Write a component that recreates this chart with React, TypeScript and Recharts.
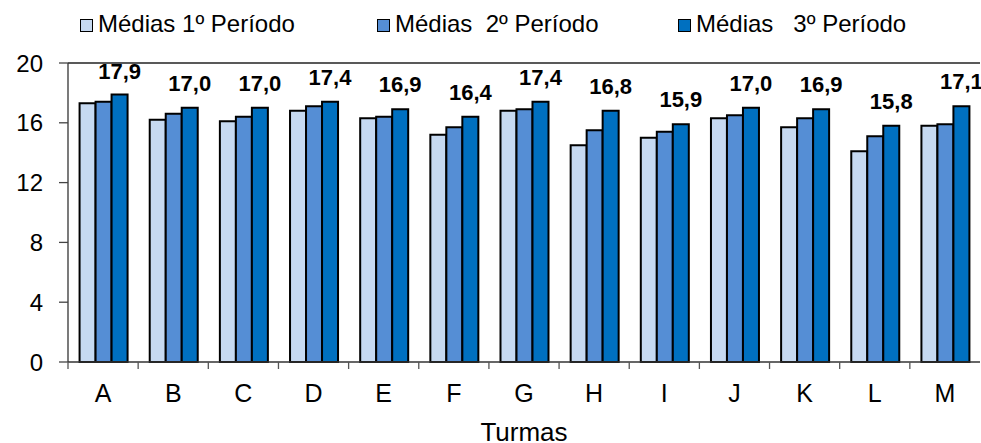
import React from 'react';
import { BarChart, Bar, XAxis, YAxis, Legend, LabelList, ReferenceLine } from 'recharts';

const turmas = ['A', 'B', 'C', 'D', 'E', 'F', 'G', 'H', 'I', 'J', 'K', 'L', 'M'];
const media1 = [17.3, 16.2, 16.1, 16.8, 16.3, 15.2, 16.8, 14.5, 15.0, 16.3, 15.7, 14.1, 15.8];
const media2 = [17.4, 16.6, 16.4, 17.1, 16.4, 15.7, 16.9, 15.5, 15.4, 16.5, 16.3, 15.1, 15.9];
const media3 = [17.9, 17.0, 17.0, 17.4, 16.9, 16.4, 17.4, 16.8, 15.9, 17.0, 16.9, 15.8, 17.1];
const yTicks = [0, 4, 8, 12, 16, 20];
const seriesKeys = ['m1', 'm2', 'm3'];
const seriesNames = ['Médias 1º Período', 'Médias  2º Período', 'Médias   3º Período'];
const seriesColors = ['#C6D9F1', '#558ED5', '#0070C0'];
const xTitle = 'Turmas';

const data = turmas.map((t, i) => ({ turma: t, m1: media1[i], m2: media2[i], m3: media3[i] }));

const FONT = '"Liberation Sans", Arial, sans-serif';

const XTick = (props: any) => {
  const { x, y, payload } = props;
  const half = payload && typeof payload.offset === 'number' ? payload.offset : 0;
  return (
    <g>
      <line x1={x - half} x2={x - half} y1={y} y2={y + 7} stroke="#555" strokeWidth={1.3} />
      <text x={x} y={y + 40} textAnchor="middle" fontSize={25} fontFamily={FONT} fill="#000">
        {payload.value}
      </text>
    </g>
  );
};

const legendX = [80, 377, 678];

const LegendContent = (props: any) => {
  const payload = [...(props.payload || [])].sort(
    (a: any, b: any) => seriesKeys.indexOf(a.dataKey) - seriesKeys.indexOf(b.dataKey)
  );
  return (
    <div style={{ position: 'relative', width: 981, height: 45, fontFamily: FONT }}>
      {payload.map((entry: any, i: number) => (
        <React.Fragment key={i}>
          <div
            style={{
              position: 'absolute',
              left: legendX[i],
              top: 19,
              width: 11,
              height: 11,
              background: entry.color,
              border: '1.5px solid #000',
            }}
          />
          <span
            style={{
              position: 'absolute',
              left: legendX[i] + 18,
              top: 12,
              fontSize: 24,
              lineHeight: '24px',
              whiteSpace: 'pre',
              color: '#000',
            }}
          >
            {entry.value}
          </span>
        </React.Fragment>
      ))}
    </div>
  );
};

const TopLabel = (props: any) => {
  const { x, y, width, value } = props;
  const base = Math.max(y - 17, 79);
  return (
    <text
      x={x + width / 2}
      y={base}
      textAnchor="middle"
      fontSize={22}
      fontWeight="bold"
      fontFamily={FONT}
      fill="#000"
    >
      {Number(value).toFixed(1).replace('.', ',')}
    </text>
  );
};

export default function App() {
  return (
    <div style={{ position: 'absolute', left: 0, top: 0, width: 981, height: 443, background: '#fff' }}>
      <BarChart
        width={981}
        height={443}
        data={data}
        margin={{ top: 63, right: 1, left: 8, bottom: 0 }}
        barCategoryGap="16.5%"
        barGap={0}
      >
        <XAxis
          dataKey="turma"
          height={81}
          tickLine={false}
          tickSize={0}
          tickMargin={0}
          axisLine={{ stroke: '#333', strokeWidth: 1.3 }}
          tick={<XTick />}
          interval={0}
          label={{ value: xTitle, position: 'insideBottom', offset: 2, fontSize: 26, fill: '#000', fontFamily: FONT }}
        />
        <YAxis
          domain={[0, 20]}
          ticks={yTicks}
          width={60}
          tickSize={9}
          tickMargin={16}
          tickLine={{ stroke: '#444', strokeWidth: 1.3 }}
          axisLine={{ stroke: '#333', strokeWidth: 1.3 }}
          tick={{ fontSize: 24, fill: '#000', fontFamily: FONT }}
          interval={0}
        />
        <YAxis
          yAxisId="right"
          orientation="right"
          width={0}
          tick={false}
          tickLine={false}
          axisLine={{ stroke: '#888', strokeWidth: 1.3 }}
        />
        <ReferenceLine y={20} stroke="#222" strokeWidth={1.3} />
        <Legend
          layout="horizontal"
          verticalAlign="middle"
          align="center"
          wrapperStyle={{ top: 0, left: 0, width: 981, height: 45 }}
          content={<LegendContent />}
        />
        <Bar dataKey="m1" name={seriesNames[0]} fill={seriesColors[0]} stroke="#000" strokeWidth={2} isAnimationActive={false} />
        <Bar dataKey="m2" name={seriesNames[1]} fill={seriesColors[1]} stroke="#000" strokeWidth={2} isAnimationActive={false} />
        <Bar dataKey="m3" name={seriesNames[2]} fill={seriesColors[2]} stroke="#000" strokeWidth={2} isAnimationActive={false}>
          <LabelList dataKey="m3" content={<TopLabel />} />
        </Bar>
      </BarChart>
    </div>
  );
}
